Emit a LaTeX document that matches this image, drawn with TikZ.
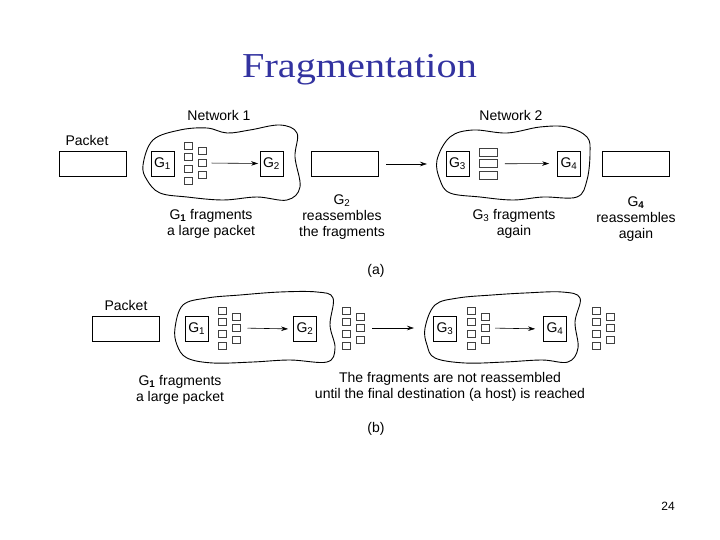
\documentclass[tikz,border=0pt]{standalone}
\usepackage{fontspec}
\setmainfont{Liberation Sans}
\newfontfamily\titlefont{Liberation Serif}
\usetikzlibrary{arrows.meta}
\definecolor{titleblue}{RGB}{51,51,160}

% two columns of fragments: #1 x of first column, #2 middle y, #3 name
\newcommand{\fragpair}[3]{%
  \foreach \k in {0,...,3} \node[frag] (#3a\k) at (#1,#2-17.5+\k*11.7) {};
  \foreach \k in {0,1,2} \node[frag] (#3b\k) at (#1+14,#2-11.7+\k*11.7) {};}

\tikzset{
  lab/.style={font=\fontsize{14}{16}\selectfont, align=center, anchor=base, inner sep=0},
  pkt/.style={draw, line width=0.7pt, minimum width=67pt, minimum height=25pt, inner sep=0},
  gate/.style={draw, line width=0.7pt, minimum width=23pt, minimum height=25pt, inner sep=0,
    font=\fontsize{14}{16}\selectfont},
  frag/.style={draw=black!75, line width=0.6pt, minimum width=8pt, minimum height=7pt, inner sep=0},
  wfrag/.style={frag, minimum width=18pt, minimum height=8pt},
  net/.style={line width=0.9pt},
  arr/.style={-{Stealth[length=7pt,width=4.5pt]}, line width=0.6pt}
}

\begin{document}
\begin{tikzpicture}[x=1pt,y=-1pt]
\useasboundingbox (0,0) rectangle (720,540);

\node[anchor=base, text=titleblue, font=\titlefont\fontsize{35}{40}\selectfont] (title) at (359.5,78)
  {\scalebox{1.15}[1]{Fragmentation}};

% (a)
\draw[net] plot[smooth cycle, tension=0.6] coordinates {(143,165) (153,140) (180,130) (207,128) (227,133)
  (250,130) (280,125) (297,133) (295,157) (300,187) (287,200) (257,197) (223,200) (187,197) (160,193) (147,180)};
\draw[net] plot[smooth cycle, tension=0.6] coordinates {(437,160) (450,137) (473,130) (507,133) (540,127)
  (567,127) (587,137) (590,153) (587,180) (577,197) (543,197) (513,200) (480,197) (450,193) (440,180)};

\node[lab] (net1) at (219,120.5) {Network 1};
\node[lab] (net2) at (511,120.5) {Network 2};
\node[lab] (pkta) at (87,145.5) {Packet};
\node[pkt] (a1) at (92.5,164) {};
\node[gate] (g1a) at (162.5,163.5) {G\textsubscript{1}};
\fragpair{188.3}{163}{fa}
\node[gate] (g2a) at (271.5,163.5) {G\textsubscript{2}};
\draw[arr, shorten <=5pt, shorten >=1.5pt] (fab1.east) -- (g2a.west);
\node[pkt] (a2) at (344.5,164) {};
\coordinate (n2in) at (427,164);
\draw[arr, shorten <=8pt] (a2.east) -- (n2in);
\node[gate] (g3a) at (457.5,163.5) {G\textsubscript{3}};
\foreach \k in {0,1,2} \node[wfrag] (w\k) at (488.5,152.5+\k*11.3) {};
\node[gate] (g4a) at (569,163.5) {G\textsubscript{4}};
\draw[arr, shorten <=7pt, shorten >=8pt] (w1.east) -- (g4a.west);
\node[pkt] (a3) at (636,164) {};

\node[lab] (t1) at (211,235.5) {G\textsubscript{\textbf{1}} fragments\\a large packet};
\node[lab] (t2) at (342,236.5) {G\textsubscript{2}\\reassembles\\the fragments};
\node[lab] (t3) at (514,235.5) {G\textsubscript{3} fragments\\again};
\node[lab] (t4) at (636,238.5) {G\textsubscript{\textbf{4}}\\reassembles\\again};
\node[lab] (capa) at (376,274.5) {(a)};

% (b)
\draw[net] plot[smooth cycle, tension=0.6] coordinates {(175,328) (183,305) (207,298) (240,295) (280,292)
  (317,292) (333,298) (330,325) (335,348) (327,362) (290,360) (253,362) (213,363) (187,358) (177,345)};
\draw[net] plot[smooth cycle, tension=0.6] coordinates {(425,328) (435,305) (458,298) (492,295) (525,293)
  (562,292) (580,298) (575,322) (578,348) (568,362) (542,360) (505,362) (465,363) (435,358) (427,345)};

\node[lab] (pktb) at (126,310.5) {Packet};
\node[pkt] (b1) at (126.3,329) {};
\node[gate] (g1b) at (196.7,329) {G\textsubscript{1}};
\fragpair{222.2}{328}{fb}
\node[gate] (g2b) at (305,329) {G\textsubscript{2}};
\draw[arr, shorten <=7pt, shorten >=5pt] (fbb1.east) -- (g2b.west);
\fragpair{345.8}{328}{fc}
\coordinate (m2in) at (414,328);
\draw[arr, shorten <=8pt] (fcb1.east) -- (m2in);
\node[gate] (g3b) at (445,329) {G\textsubscript{3}};
\fragpair{470.8}{328}{fd}
\node[gate] (g4b) at (555,329) {G\textsubscript{4}};
\draw[arr, shorten <=6pt, shorten >=8pt] (fdb1.east) -- (g4b.west);
\fragpair{595.8}{328}{fe}

\node[lab] (t5) at (180,401.5) {G\textsubscript{\textbf{1}} fragments\\a large packet};
\node[lab] (t6) at (450,398.5) {The fragments are not reassembled\\until the final destination (a host) is reached};
\node[lab] (capb) at (376,432.5) {(b)};

\node[anchor=base, font=\fontsize{12}{14}\selectfont] (page) at (668,510) {24};
\end{tikzpicture}
\end{document}
